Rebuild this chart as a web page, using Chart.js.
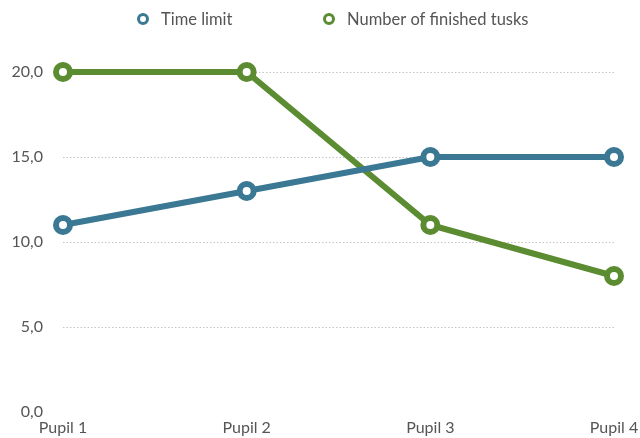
<!DOCTYPE html>
<html>
<head>
<meta charset="utf-8">
<script src="https://cdn.jsdelivr.net/npm/chart.js@4"></script>
<style>
html,body{margin:0;padding:0;background:#fff;}
#wrap{width:640px;height:438px;position:relative;}
</style>
</head>
<body>
<div id="wrap"><canvas id="c" width="640" height="438"></canvas></div>
<script>
const categories = ["Pupil 1", "Pupil 2", "Pupil 3", "Pupil 4"];
const timeLimit = [11, 13, 15, 15];
const finishedTasks = [20, 20, 11, 8];
const seriesNames = ["Time limit", "Number of finished tusks"];
const yTicks = [0, 5, 10, 15, 20];

const BLUE = "#3a7893";
const GREEN = "#5b8c31";
const FONT = "Lato, 'Open Sans', sans-serif";

const legendPlugin = {
  id: "customLegend",
  afterDraw(chart) {
    const ctx = chart.ctx;
    const pos = [{cx: 143, tx: 161}, {cx: 329, tx: 347}];
    ctx.save();
    chart.data.datasets.forEach((ds, i) => {
      const p = pos[i];
      ctx.beginPath();
      ctx.arc(p.cx, 19, 4.5, 0, Math.PI * 2);
      ctx.fillStyle = "#fff";
      ctx.fill();
      ctx.lineWidth = 3;
      ctx.strokeStyle = ds.borderColor;
      ctx.stroke();
      ctx.fillStyle = "#555";
      ctx.font = "16.5px " + FONT;
      ctx.textBaseline = "middle";
      ctx.textAlign = "left";
      ctx.fillText(ds.label, p.tx, 20);
    });
    ctx.restore();
  }
};

new Chart(document.getElementById("c"), {
  type: "line",
  data: {
    labels: categories,
    datasets: [
      {
        label: seriesNames[0],
        data: timeLimit,
        borderColor: BLUE,
        backgroundColor: "#fff",
        borderWidth: 6,
        pointRadius: 7,
        pointHoverRadius: 7,
        pointBorderWidth: 6,
        pointBackgroundColor: "#fff",
        pointBorderColor: BLUE,
        tension: 0,
        clip: false
      },
      {
        label: seriesNames[1],
        data: finishedTasks,
        borderColor: GREEN,
        backgroundColor: "#fff",
        borderWidth: 6,
        pointRadius: 7,
        pointHoverRadius: 7,
        pointBorderWidth: 6,
        pointBackgroundColor: "#fff",
        pointBorderColor: GREEN,
        tension: 0,
        clip: false
      }
    ]
  },
  options: {
    responsive: false,
    animation: false,
    devicePixelRatio: 1,
    layout: { padding: { top: 72, right: 26, left: 0, bottom: 0 } },
    plugins: {
      legend: { display: false },
      tooltip: { enabled: false }
    },
    scales: {
      x: {
        offset: false,
        grid: { display: false, drawTicks: false },
        border: { display: false },
        ticks: {
          padding: 6,
          color: "#555",
          font: { family: FONT, size: 16 },
          maxRotation: 0,
          autoSkip: false
        },
        afterFit(s) { s.height = 26; s.paddingLeft = 0; s.paddingRight = 0; }
      },
      y: {
        min: 0,
        max: 20,
        afterBuildTicks(s) { s.ticks = yTicks.map(v => ({ value: v })); },
        grid: {
          drawTicks: false,
          color: c => (c.tick && c.tick.value === 0) ? "rgba(0,0,0,0)" : "#c4c4c4",
          lineWidth: 1
        },
        border: { display: false, dash: [1.5, 2] },
        ticks: {
          padding: 20,
          color: "#555",
          font: { family: FONT, size: 16 },
          callback: v => v.toFixed(1).replace(".", ",")
        },
        afterFit(s) { s.width = 63; s.paddingTop = 0; s.paddingBottom = 0; }
      }
    }
  },
  plugins: [legendPlugin]
});
</script>
</body>
</html>
